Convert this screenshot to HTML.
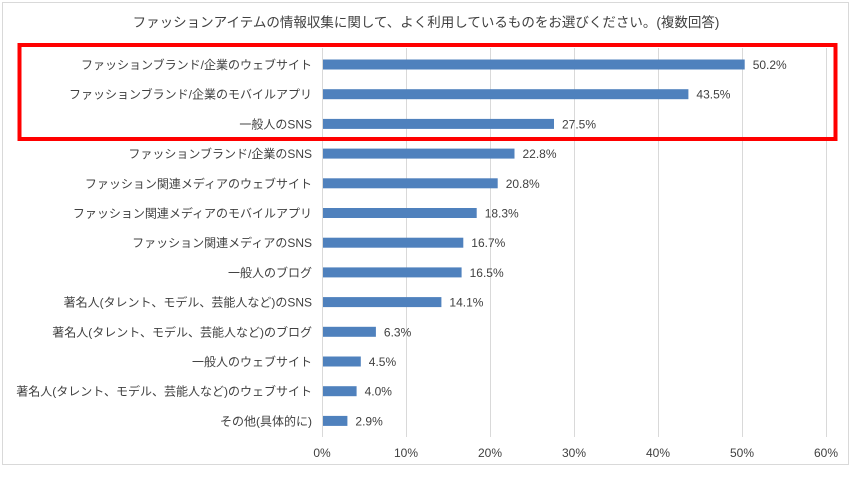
<!DOCTYPE html>
<html><head><meta charset="utf-8"><style>
body{margin:0;background:#fff;}
svg text{font-family:"Liberation Sans","Noto Sans CJK JP",sans-serif;fill:#404040;}
</style></head><body>
<svg width="852" height="473" xmlns="http://www.w3.org/2000/svg">
<rect x="2.5" y="2.5" width="846" height="462" fill="#fff" stroke="#d9d9d9"/>
<text x="426" y="27" font-size="13.5" text-anchor="middle">ファッションアイテムの情報収集に関して、よく利用しているものをお選びください。(複数回答)</text>
<g stroke="#d9d9d9" stroke-width="1">
<line x1="322.5" y1="48" x2="322.5" y2="437"/>
<line x1="406.5" y1="48" x2="406.5" y2="437"/>
<line x1="490.5" y1="48" x2="490.5" y2="437"/>
<line x1="574.5" y1="48" x2="574.5" y2="437"/>
<line x1="658.5" y1="48" x2="658.5" y2="437"/>
<line x1="742.5" y1="48" x2="742.5" y2="437"/>
<line x1="826.5" y1="48" x2="826.5" y2="437"/>
</g>
<g font-size="12" text-anchor="middle">
<text x="322" y="457">0%</text><text x="406" y="457">10%</text><text x="490" y="457">20%</text><text x="574" y="457">30%</text><text x="658" y="457">40%</text><text x="742" y="457">50%</text><text x="826" y="457">60%</text>
</g>
<g fill="#4f81bd">
<rect x="323" y="59.5" width="421.7" height="10"/>
<rect x="323" y="89.2" width="365.4" height="10"/>
<rect x="323" y="118.9" width="231" height="10"/>
<rect x="323" y="148.6" width="191.5" height="10"/>
<rect x="323" y="178.3" width="174.7" height="10"/>
<rect x="323" y="208" width="153.7" height="10"/>
<rect x="323" y="237.7" width="140.3" height="10"/>
<rect x="323" y="267.4" width="138.6" height="10"/>
<rect x="323" y="297.1" width="118.4" height="10"/>
<rect x="323" y="326.8" width="52.9" height="10"/>
<rect x="323" y="356.5" width="37.8" height="10"/>
<rect x="323" y="386.2" width="33.6" height="10"/>
<rect x="323" y="415.9" width="24.4" height="10"/>
</g>
<g font-size="12" text-anchor="end">
<text x="312" y="69">ファッションブランド/企業のウェブサイト</text>
<text x="312" y="98.7">ファッションブランド/企業のモバイルアプリ</text>
<text x="312" y="128.4">一般人のSNS</text>
<text x="312" y="158.1">ファッションブランド/企業のSNS</text>
<text x="312" y="187.8">ファッション関連メディアのウェブサイト</text>
<text x="312" y="217.5">ファッション関連メディアのモバイルアプリ</text>
<text x="312" y="247.2">ファッション関連メディアのSNS</text>
<text x="312" y="276.9">一般人のブログ</text>
<text x="312" y="306.6">著名人(タレント、モデル、芸能人など)のSNS</text>
<text x="312" y="336.3">著名人(タレント、モデル、芸能人など)のブログ</text>
<text x="312" y="366">一般人のウェブサイト</text>
<text x="312" y="395.7">著名人(タレント、モデル、芸能人など)のウェブサイト</text>
<text x="312" y="425.4">その他(具体的に)</text>
</g>
<g font-size="12">
<text x="752.7" y="69">50.2%</text>
<text x="696.4" y="98.7">43.5%</text>
<text x="562" y="128.4">27.5%</text>
<text x="522.5" y="158.1">22.8%</text>
<text x="505.7" y="187.8">20.8%</text>
<text x="484.7" y="217.5">18.3%</text>
<text x="471.3" y="247.2">16.7%</text>
<text x="469.6" y="276.9">16.5%</text>
<text x="449.4" y="306.6">14.1%</text>
<text x="383.9" y="336.3">6.3%</text>
<text x="368.8" y="366">4.5%</text>
<text x="364.6" y="395.7">4.0%</text>
<text x="355.4" y="425.4">2.9%</text>
</g>
<rect x="19.5" y="45" width="816" height="94" fill="none" stroke="#ff0000" stroke-width="4"/>
</svg>
</body></html>
